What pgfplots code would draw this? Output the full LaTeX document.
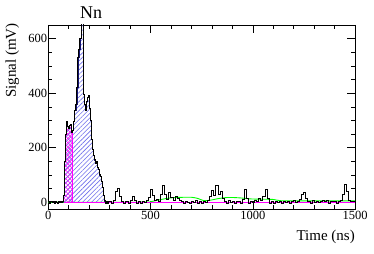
\documentclass[border=0pt]{standalone}
\usepackage{fontspec}
\setmainfont{Liberation Serif}
\usepackage{pgfplots}
\usepackage{pgfplotstable}
\pgfplotsset{compat=1.18}
\usetikzlibrary{patterns.meta}
\definecolor{hatchblue}{RGB}{110,110,235}
\definecolor{navy}{RGB}{20,20,110}
\definecolor{rootgreen}{RGB}{0,255,0}
\definecolor{rootmag}{RGB}{255,0,255}

\pgfplotstableread{
x y
0 2
5 -3
10 4
15 1
20 -2
25 3
30 -4
35 2
40 0
45 -3
50 3
55 -1
60 2
65 -2
70 3
75 25
80 150
85 250
90 297
95 278
100 272
105 283
110 286
115 255
120 262
125 295
130 335
135 360
140 420
145 530
150 560
155 600
160 720
165 720
170 395
175 360
180 335
185 370
190 385
195 390
200 345
205 300
210 230
215 195
220 170
225 155
230 142
235 150
240 128
245 120
250 100
255 96
260 75
265 55
270 25
275 5
280 -4
285 2
290 -3
295 4
300 3
310 -5
320 8
330 40
340 52
350 20
360 2
370 -6
380 4
390 -3
400 6
410 22
420 8
430 -5
440 2
450 -4
460 3
470 -2
480 5
490 18
500 45
510 25
520 5
530 10
540 4
550 30
560 62
570 28
580 10
590 36
600 18
610 8
620 20
630 12
640 6
650 2
660 -3
670 4
680 0
690 -4
700 3
710 -2
720 5
730 -3
740 2
750 -5
760 3
770 0
780 6
790 20
800 42
810 25
820 62
830 30
840 38
850 15
860 2
870 -4
880 5
890 -2
900 3
910 -5
920 2
930 4
940 -3
950 10
960 48
970 12
980 -4
990 3
1000 -2
1010 5
1020 2
1030 15
1040 6
1050 20
1060 45
1070 12
1080 -3
1090 4
1100 -5
1110 2
1120 -2
1130 3
1140 -4
1150 2
1160 0
1170 4
1180 -3
1190 2
1200 5
1210 -2
1220 3
1230 10
1240 30
1250 36
1260 12
1270 2
1280 -3
1290 5
1300 0
1310 3
1320 -2
1330 4
1340 6
1350 2
1360 5
1370 -3
1380 4
1390 1
1400 3
1410 -4
1420 2
1430 5
1440 30
1450 65
1460 40
1470 8
1480 2
1490 4
1500 4
}\sig

\pgfplotstableread{
x y
75 25
80 150
85 250
90 297
95 278
100 272
105 283
110 286
115 255
117 255
}\magreg

\begin{document}
\begin{tikzpicture}
\begin{axis}[
  scale only axis,
  width=306.7pt, height=184pt,
  xmin=0, xmax=1500, ymin=-25, ymax=650,
  xtick={0,500,1000,1500},
  ytick={0,200,400,600},
  minor x tick num=4,
  minor y tick num=3,
  tick align=inside,
  major tick length=8pt,
  minor tick length=4pt,
  axis line style={line width=0.6pt},
  every tick/.style={black, line width=0.5pt},
  /pgf/number format/assume math mode=true,
  /pgf/number format/set thousands separator={},
  scaled ticks=false,
  tick label style={font=\fontsize{12.5}{13}\selectfont},
  yticklabel style={inner sep=1pt},
  xticklabel style={inner sep=2pt},
  xlabel={Time (ns)},
  ylabel={Signal (mV)},
  xlabel style={at={(rel axis cs:1,0)}, anchor=north east, yshift=-21pt, inner sep=0pt, font=\fontsize{15}{16}\selectfont},
  ylabel style={at={(axis description cs:-0.117,1.01)}, anchor=east, inner sep=0pt, font=\fontsize{15}{16}\selectfont},
  every axis title shift=0pt,
  title={Nn},
  title style={at={(axis description cs:0.14,1.033)}, anchor=base, yshift=0pt, inner sep=0pt, font=\fontsize{18}{19}\selectfont},
]
% magenta crosshatched region
\addplot[const plot, draw=none, pattern={Hatch[angle=45,distance=3pt,line width=0.55pt]}, pattern color=rootmag] table[x=x,y=y] {\magreg} \closedcycle;
% blue hatched peak region
\addplot[const plot, draw=navy, line width=0.8pt, pattern={Lines[angle=45,distance=3.2pt,line width=0.6pt]}, pattern color=hatchblue,
  restrict x to domain=75:275] table[x=x,y=y] {\sig} \closedcycle;
% green baseline fit
\addplot[rootgreen, line width=0.9pt, smooth] coordinates {
(0,0) (460,0) (500,2) (540,8) (580,14) (620,17) (660,18) (700,18) (730,14) (760,6) (790,7) (830,13) (870,17) (910,17) (950,15) (990,12) (1040,11) (1100,10) (1130,6) (1180,5) (1500,5)};
% magenta baseline and marker
\addplot[rootmag, line width=1pt] coordinates {(75,0) (1500,0)};
\addplot[rootmag, line width=1.3pt] coordinates {(117,0) (117,255)};
% black signal
\addplot[const plot, black, line width=1pt] table[x=x,y=y] {\sig};
\end{axis}
\path (current axis.south west) ++(-48.3pt,-44pt) coordinate (bl);
\path (current axis.north east) ++(19pt,25pt) coordinate (tr);
\pgfresetboundingbox
\path (bl) rectangle (tr);
\end{tikzpicture}
\end{document}
